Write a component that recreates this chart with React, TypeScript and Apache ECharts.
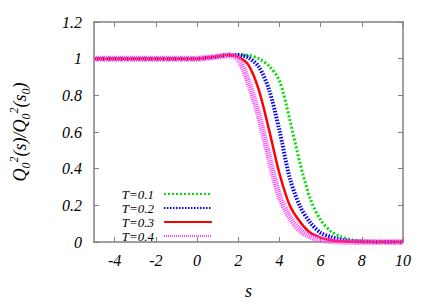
import React, { useEffect, useRef } from "react";
import * as echarts from "echarts";

const sValues = [-5, -4, -3, -2, -1, 0, 0.5, 1, 1.5, 2, 2.5, 3, 3.5, 4, 4.5, 5, 5.5, 6, 6.5, 7, 7.5, 8, 9, 10];
const t01 = [1, 1, 1, 1, 1, 1, 1.005, 1.01, 1.017, 1.02, 1.018, 1.0, 0.96, 0.88, 0.67, 0.43, 0.235, 0.12, 0.058, 0.028, 0.012, 0.005, 0.001, 0];
const t02 = [1, 1, 1, 1, 1, 1, 1.005, 1.012, 1.02, 1.02, 1.005, 0.955, 0.83, 0.61, 0.35, 0.195, 0.105, 0.05, 0.028, 0.012, 0.005, 0.002, 0, 0];
const t03 = [1, 1, 1, 1, 1, 1, 1.005, 1.012, 1.02, 1.01, 0.965, 0.83, 0.61, 0.375, 0.2, 0.11, 0.05, 0.024, 0.01, 0.004, 0.001, 0, 0, 0];
const t04 = [1, 1, 1, 1, 1, 1, 1.005, 1.012, 1.018, 1.0, 0.87, 0.69, 0.46, 0.25, 0.135, 0.065, 0.03, 0.013, 0.005, 0.002, 0, 0, 0, 0];
const seriesNames = ["T=0.1", "T=0.2", "T=0.3", "T=0.4"];
const xTicks = [-4, -2, 0, 2, 4, 6, 8, 10];

const font = "Liberation Serif";
const axisColor = "#808080";

export default function App() {
  const ref = useRef<HTMLDivElement>(null);
  useEffect(() => {
    const chart = echarts.init(ref.current!, null, { renderer: "svg" });
    const pair = (ys: number[]) => sValues.map((s, i) => [s, ys[i]]);
    const styles = [
      { color: "#00dd00", width: 3, type: [2, 2] },
      { color: "#0000ff", width: 4, type: [1.5, 1.5] },
      { color: "#ff0000", width: 2.5, type: "solid" },
      { color: "#ff44ff", width: 6, type: [1, 1] },
    ];
    const data = [t01, t02, t03, t04];
    const labelStyle = { fontFamily: font, fontStyle: "italic", fontSize: 16, color: "#000" };
    const baseX = {
      type: "value",
      min: -5,
      max: 10,
      axisLine: { onZero: false, lineStyle: { color: axisColor, width: 1.5 } },
      splitLine: { show: false },
      axisTick: { inside: true, length: 5, customValues: xTicks, lineStyle: { color: axisColor } },
    };
    const baseY = {
      type: "value",
      min: 0,
      max: 1.2,
      interval: 0.2,
      axisLine: { show: true, onZero: false, lineStyle: { color: axisColor, width: 1.5 } },
      splitLine: { show: false },
      axisTick: { show: true, inside: true, length: 5, lineStyle: { color: axisColor } },
    };
    chart.setOption({
      animation: false,
      textStyle: { fontFamily: font, fontStyle: "italic", color: "#000" },
      grid: { left: 89, right: 33, top: 22, bottom: 58 },
      xAxis: [
        {
          ...baseX,
          position: "bottom",
          name: "s",
          nameLocation: "middle",
          nameGap: 40,
          nameTextStyle: { fontFamily: font, fontStyle: "italic", fontSize: 18, color: "#000" },
          axisLabel: {
            customValues: xTicks,
            margin: 10,
            ...labelStyle,
          },
        },
        {
          ...baseX,
          position: "top",
          axisLabel: { show: false },
        },
      ],
      yAxis: [
        {
          ...baseY,
          position: "left",
          name: "Q{sub|0}{sup|2}(s)/Q{sub|0}{sup|2}(s{sub|0})",
          nameLocation: "middle",
          nameGap: 62,
          nameRotate: 90,
          nameTextStyle: {
            fontFamily: font,
            fontStyle: "italic",
            fontSize: 18,
            color: "#000",
            lineHeight: 24,
            rich: {
              sub: { fontFamily: font, fontStyle: "italic", fontSize: 12, verticalAlign: "bottom", lineHeight: 24, color: "#000" },
              sup: { fontFamily: font, fontStyle: "italic", fontSize: 12, verticalAlign: "top", lineHeight: 24, color: "#000" },
            },
          },
          axisLabel: {
            margin: 12,
            ...labelStyle,
          },
        },
        {
          ...baseY,
          position: "right",
          axisLabel: { show: false },
        },
      ],
      legend: {
        orient: "vertical",
        align: "right",
        right: 223,
        top: 187,
        itemWidth: 48,
        itemHeight: 6,
        itemGap: 0,
        padding: 0,
        itemStyle: { opacity: 0 },
        textStyle: { fontFamily: font, fontStyle: "italic", fontSize: 13, color: "#000", lineHeight: 14, padding: [0, 5, 0, 0] },
        data: seriesNames,
      },
      series: data.map((ys, i) => ({
        type: "line",
        name: seriesNames[i],
        data: pair(ys),
        smooth: 0.3,
        symbol: "none",
        lineStyle: styles[i],
        itemStyle: { color: styles[i].color },
        z: 2 + i,
      })),
    });
    return () => chart.dispose();
  }, []);
  return <div ref={ref} style={{ width: 436, height: 305, position: "absolute", left: 0, top: 0 }} />;
}
